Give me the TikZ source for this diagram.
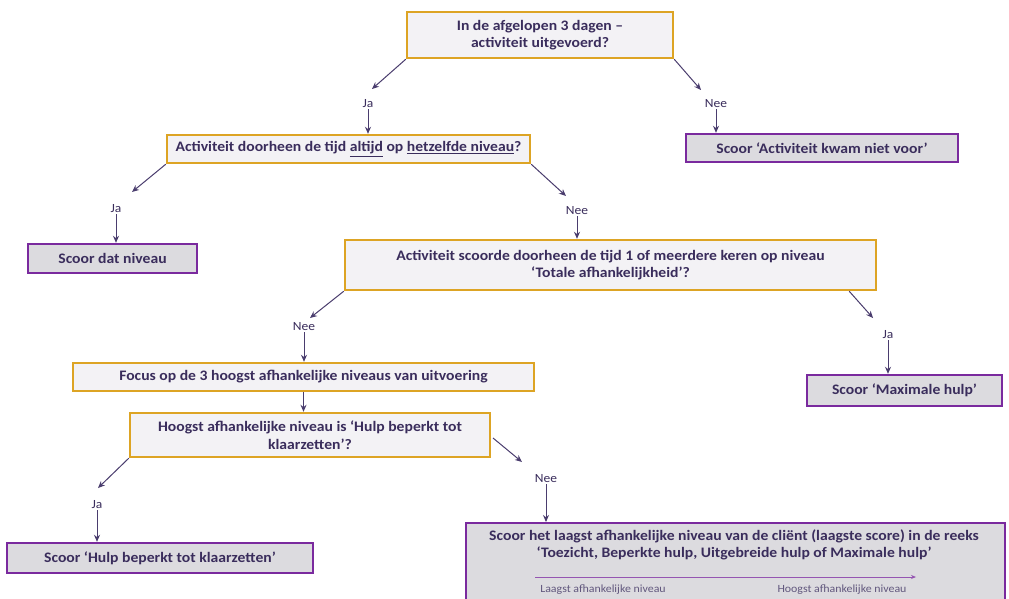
\documentclass[tikz,border=0pt]{standalone}
\usepackage{fontspec}
\setmainfont{Carlito}[FakeStretch=1.08]
\usetikzlibrary{arrows.meta}
\definecolor{gold}{HTML}{DDA424}
\definecolor{purp}{HTML}{7A2A9E}
\definecolor{qfill}{HTML}{F3F2F5}
\definecolor{sfill}{HTML}{DCDBDF}
\definecolor{txt}{HTML}{3A2D5C}
\definecolor{arrc}{HTML}{4A3D6E}
\tikzset{
  qbox/.style={draw=gold, line width=2.4pt, fill=qfill, text=txt, font=\fontsize{14.5}{17.5}\selectfont\bfseries, align=center, inner sep=0pt},
  sbox/.style={draw=purp, line width=2.4pt, fill=sfill, text=txt, font=\fontsize{14.5}{17.5}\selectfont\bfseries, align=center, inner sep=0pt},
  lab/.style={text=txt, font=\fontsize{12.5}{13}\selectfont, inner sep=1pt},
  small/.style={text=txt!80, font=\fontsize{11}{12}\selectfont, inner sep=1pt},
  arr/.style={draw=arrc, line width=1pt, -{Stealth[length=7pt,width=6pt]}}
}
\begin{document}
\begin{tikzpicture}[x=1pt,y=-1pt]
\useasboundingbox[fill=white] (0,0) rectangle (1009,598);
% boxes
\node[qbox, minimum width=266, minimum height=46] (b1) at (540,35) {In de afgelopen 3 dagen –\\activiteit uitgevoerd?};
\node[qbox, minimum width=363, minimum height=28] (b2) at (348.5,149) {Activiteit doorheen de tijd \underline{altijd} op \underline{hetzelfde niveau}?};
\node[sbox, minimum width=272, minimum height=28] (b3) at (822,148) {Scoor ‘Activiteit kwam niet voor’};
\node[sbox, minimum width=169, minimum height=29] (b4) at (112.5,258.5) {Scoor dat niveau};
\node[qbox, minimum width=531, minimum height=50] (b5) at (610.5,265) {Activiteit scoorde doorheen de tijd 1 of meerdere keren op niveau\\‘Totale afhankelijkheid’?};
\node[qbox, minimum width=461, minimum height=28] (b6) at (303.5,377) {Focus op de 3 hoogst afhankelijke niveaus van uitvoering};
\node[qbox, minimum width=360, minimum height=44] (b7) at (310,435) {Hoogst afhankelijke niveau is ‘Hulp beperkt tot\\klaarzetten’?};
\node[sbox, minimum width=195, minimum height=31] (b8) at (904.5,390.5) {Scoor ‘Maximale hulp’};
\node[sbox, minimum width=306, minimum height=30] (b9) at (160,558) {Scoor ‘Hulp beperkt tot klaarzetten’};
\node[sbox, minimum width=539, minimum height=80, anchor=north west] (b10) at (465,522) {};
\node[text=txt, font=\fontsize{14.5}{17.5}\selectfont\bfseries, align=center] (t10) at (734,545) {Scoor het laagst afhankelijke niveau van de cliënt (laagste score) in de reeks\\‘Toezicht, Beperkte hulp, Uitgebreide hulp of Maximale hulp’};
\coordinate (sL) at (535,577);
\coordinate (sR) at (916,577);
\draw[draw=purp!80, line width=0.8pt, -{Stealth[length=5pt,width=4pt]}] (sL) -- (sR);
\node[small] (lo) at (603,590) {Laagst afhankelijke niveau};
\node[small] (hi) at (842,590) {Hoogst afhankelijke niveau};
% labels
\node[lab] (l1) at (368,104) {Ja};
\node[lab] (l2) at (716,104) {Nee};
\node[lab] (l3) at (116,209) {Ja};
\node[lab] (l4) at (577,211) {Nee};
\node[lab] (l5) at (304,327) {Nee};
\node[lab] (l6) at (888,335) {Ja};
\node[lab] (l7) at (97,505) {Ja};
\node[lab] (l8) at (546,479) {Nee};
% diagonal tips
\coordinate (d1) at (372,89);
\coordinate (d2) at (701,90);
\coordinate (d3) at (132,192);
\coordinate (d4) at (566,196);
\coordinate (d5) at (310,318);
\coordinate (d6) at (873,318);
\coordinate (d7) at (98,488);
\coordinate (d8) at (522,462);
\coordinate (b7r) at (493,438);
% connectors
\draw[arr] (b1.south west) -- (d1);
\draw[arr] (b1.south east) -- (d2);
\draw[arr] (l1.south) -- (l1.south |- b2.north);
\draw[arr] (l2.south) -- (l2.south |- b3.north);
\draw[arr] (b2.south west) -- (d3);
\draw[arr] (b2.south east) -- (d4);
\draw[arr] (l3.south) -- (l3.south |- b4.north);
\draw[arr] (l4.south) -- (l4.south |- b5.north);
\draw[arr] (b5.south west) -- (d5);
\draw[arr] ([xshift=-28pt]b5.south east) -- (d6);
\draw[arr] (l5.south) -- (l5.south |- b6.north);
\draw[arr] (l6.south) -- (l6.south |- b8.north);
\draw[arr] (b6.south) -- (b6.south |- b7.north);
\draw[arr] (b7.south west) -- (d7);
\draw[arr] (b7r) -- (d8);
\draw[arr] (l7.south) -- (l7.south |- b9.north);
\draw[arr] (l8.south) -- (l8.south |- b10.north);
\end{tikzpicture}
\end{document}
